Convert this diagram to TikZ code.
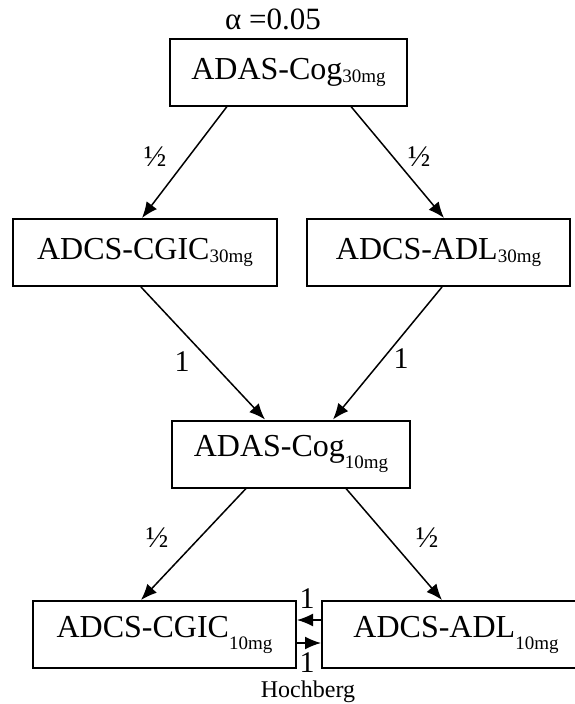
\documentclass[tikz,border=0pt]{standalone}
\usepackage{fontspec}
\setmainfont{Liberation Serif}
\usetikzlibrary{arrows.meta,calc}
\newcommand{\subup}[1]{\raisebox{-3pt}{\fontsize{19}{21}\selectfont #1}}
\newcommand{\subdn}[1]{\raisebox{-12pt}{\fontsize{19}{21}\selectfont #1}}
\begin{document}
\begin{tikzpicture}[x=1pt,y=-1pt,
  box/.style={draw, line width=2pt, minimum height=67pt, inner sep=0pt, font=\fontsize{32}{38}\selectfont},
  arr/.style={-{Latex[length=16pt,width=13pt]}, line width=1.5pt},
  wt/.style={inner sep=0pt, font=\fontsize{30}{34}\selectfont}]
\useasboundingbox (0,0) rectangle (575,704);
\node[font=\fontsize{31}{36}\selectfont] (alpha) at (273,19) {α =0.05};
\node[box, minimum width=237pt] (cog30) at (288.5,72) {ADAS-Cog\subup{30mg}};
\node[box, minimum width=264pt] (cgic30) at (145,252.5) {ADCS-CGIC\subup{30mg}};
\node[box, minimum width=263pt] (adl30) at (438.5,252.5) {ADCS-ADL\subup{30mg}};
\node[box, minimum width=238pt] (cog10) at (291,454) {ADAS-Cog\subdn{10mg}};
\node[box, minimum width=263pt] (cgic10) at (164.5,634.5) {ADCS-CGIC\subdn{10mg}};
\node[box, minimum width=268pt] (adl10) at (456,634.5) {ADCS-ADL\subdn{10mg}};
% weights
\node[wt] (w0) at (155,157) {½};
\node[wt] (w1) at (419,157) {½};
\node[wt] (w2) at (182,362) {1};
\node[wt] (w3) at (401,359) {1};
\node[wt] (w4) at (157,538) {½};
\node[wt] (w5) at (427,538) {½};
\node[wt] (w6) at (307,599) {1};
\node[wt] (w7) at (307,663) {1};
\node[inner sep=0pt, font=\fontsize{24}{28}\selectfont] (hoch) at (308,692) {Hochberg};
% edges
\draw[arr] ($(cog30.south west)+(58,0)$) -- ($(cgic30.north west)+(130,0)$);
\draw[arr] ($(cog30.south west)+(182,0)$) -- ($(adl30.north west)+(138,0)$);
\draw[arr] ($(cgic30.south west)+(129,0)$) -- ($(cog10.north west)+(94,0)$);
\draw[arr] ($(adl30.south west)+(136,0)$) -- ($(cog10.north west)+(162,0)$);
\draw[arr] ($(cog10.south west)+(75,0)$) -- ($(cgic10.north west)+(109,0)$);
\draw[arr] ($(cog10.south west)+(175,0)$) -- ($(adl10.north west)+(121,0)$);
\draw[arr] ($(adl10.west)+(0,-14.5)$) -- ($(cgic10.east)+(0,-14.5)$);
\draw[arr] ($(cgic10.east)+(0,8.5)$) -- ($(adl10.west)+(0,8.5)$);
\end{tikzpicture}
\end{document}
